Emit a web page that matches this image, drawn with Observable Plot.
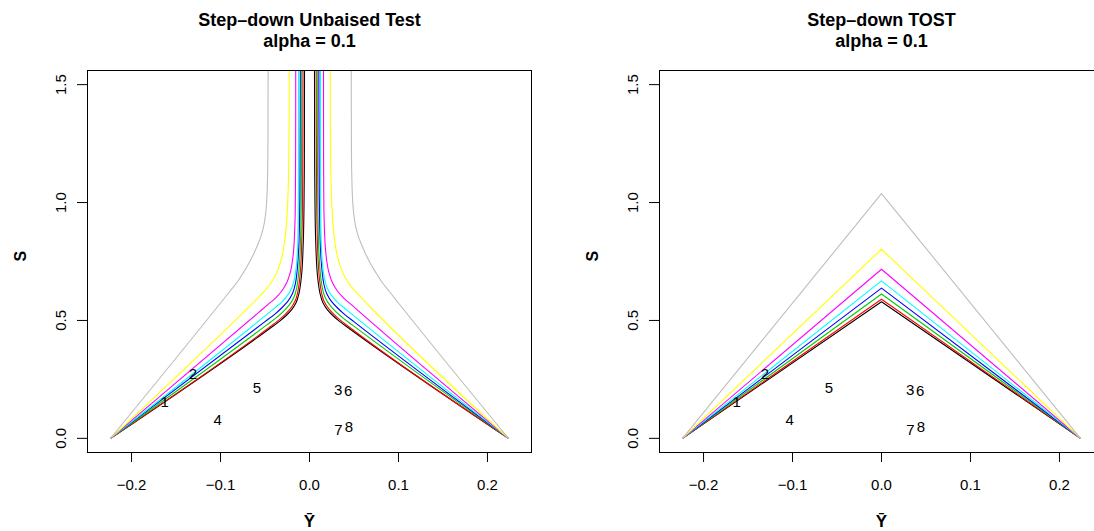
<!DOCTYPE html>
<html>
<head>
<meta charset="utf-8">
<script src="https://cdn.jsdelivr.net/npm/d3@7"></script>
<script src="https://cdn.jsdelivr.net/npm/@observablehq/plot@0.6"></script>
<style>
html, body { margin: 0; padding: 0; background: #fff; overflow: hidden; }
#wrap { width: 1094px; height: 531px; overflow: hidden; display: flex; background: #fff; }
#wrap svg { flex: none; }
</style>
</head>
<body>
<div id="wrap"></div>
<script>
// ---- series identity (R default palette 1..8) ----
const seriesNames = ["1", "2", "3", "4", "5", "6", "7", "8"];
const seriesColors = ["#000000", "#FF0000", "#00CD00", "#0000FF", "#00FFFF", "#FF00FF", "#FFFF00", "#BEBEBE"];

// ---- axis ticks ----
const xTicks = [-0.2, -0.1, 0.0, 0.1, 0.2];
const yTicks = [0.0, 0.5, 1.0, 1.5];

// ---- panel titles (two lines each) ----
const titleLeft = ["Step–down Unbaised Test", "alpha = 0.1"];
const titleRight = ["Step–down TOST", "alpha = 0.1"];

// ---- Step-down unbiased test boundaries: [Ybar, S] ----
const ub1L = [[-0.2236,0],[-0.0450,0.465],[-0.0342,0.495],[-0.0265,0.520],[-0.0202,0.545],[-0.0151,0.575],[-0.0118,0.615],[-0.0097,0.665],[-0.0084,0.715],[-0.0075,0.780],[-0.0068,0.855],[-0.0062,0.980],[-0.0058,1.150],[-0.0057,1.350],[-0.0056,1.600]];
const ub1R = [[0.2236,0],[0.0450,0.465],[0.0342,0.495],[0.0265,0.520],[0.0202,0.545],[0.0151,0.575],[0.0118,0.615],[0.0097,0.665],[0.0084,0.715],[0.0075,0.780],[0.0068,0.855],[0.0062,0.980],[0.0058,1.150],[0.0057,1.350],[0.0056,1.600]];
const ub2L = [[-0.2236,0],[-0.0460,0.468],[-0.0352,0.499],[-0.0276,0.525],[-0.0214,0.550],[-0.0164,0.580],[-0.0132,0.620],[-0.0112,0.670],[-0.0100,0.720],[-0.0091,0.785],[-0.0085,0.860],[-0.0079,0.985],[-0.0076,1.150],[-0.0074,1.350],[-0.0073,1.600]];
const ub2R = [[0.2236,0],[0.0460,0.468],[0.0353,0.499],[0.0277,0.525],[0.0215,0.550],[0.0165,0.580],[0.0134,0.620],[0.0114,0.670],[0.0102,0.720],[0.0093,0.785],[0.0087,0.860],[0.0081,0.985],[0.0078,1.150],[0.0076,1.350],[0.0075,1.600]];
const ub3L = [[-0.2236,0],[-0.0480,0.481],[-0.0368,0.513],[-0.0290,0.540],[-0.0226,0.566],[-0.0176,0.597],[-0.0144,0.638],[-0.0125,0.688],[-0.0113,0.740],[-0.0104,0.805],[-0.0098,0.880],[-0.0093,1.000],[-0.0090,1.170],[-0.0088,1.370],[-0.0087,1.600]];
const ub3R = [[0.2236,0],[0.0480,0.481],[0.0368,0.513],[0.0290,0.540],[0.0226,0.566],[0.0176,0.597],[0.0144,0.638],[0.0125,0.688],[0.0113,0.740],[0.0104,0.805],[0.0098,0.880],[0.0093,1.000],[0.0090,1.170],[0.0088,1.370],[0.0087,1.600]];
const ub4L = [[-0.2236,0],[-0.0500,0.495],[-0.0385,0.528],[-0.0305,0.556],[-0.0240,0.583],[-0.0190,0.615],[-0.0158,0.657],[-0.0140,0.707],[-0.0128,0.760],[-0.0119,0.825],[-0.0113,0.900],[-0.0108,1.020],[-0.0106,1.190],[-0.0104,1.390],[-0.0103,1.600]];
const ub4R = [[0.2236,0],[0.0502,0.494],[0.0387,0.528],[0.0307,0.556],[0.0242,0.583],[0.0192,0.615],[0.0160,0.657],[0.0142,0.707],[0.0130,0.760],[0.0121,0.825],[0.0115,0.900],[0.0110,1.020],[0.0108,1.190],[0.0106,1.390],[0.0105,1.600]];
const ub5L = [[-0.2236,0],[-0.0520,0.513],[-0.0410,0.547],[-0.0318,0.576],[-0.0252,0.604],[-0.0200,0.637],[-0.0167,0.680],[-0.0148,0.730],[-0.0137,0.785],[-0.0130,0.850],[-0.0127,0.925],[-0.0125,1.040],[-0.0124,1.200],[-0.0124,1.400],[-0.0123,1.600]];
const ub5R = [[0.2236,0],[0.0520,0.513],[0.0410,0.547],[0.0318,0.576],[0.0252,0.604],[0.0200,0.637],[0.0167,0.680],[0.0148,0.730],[0.0137,0.785],[0.0130,0.850],[0.0127,0.925],[0.0125,1.040],[0.0124,1.200],[0.0124,1.400],[0.0124,1.600]];
const ub6L = [[-0.2236,0],[-0.0580,0.531],[-0.0472,0.566],[-0.0380,0.596],[-0.0310,0.626],[-0.0255,0.661],[-0.0215,0.705],[-0.0191,0.755],[-0.0176,0.810],[-0.0167,0.875],[-0.0161,0.950],[-0.0158,1.060],[-0.0156,1.220],[-0.0155,1.400],[-0.0155,1.600]];
const ub6R = [[0.2236,0],[0.0582,0.530],[0.0474,0.566],[0.0382,0.596],[0.0312,0.626],[0.0257,0.661],[0.0217,0.705],[0.0193,0.755],[0.0178,0.810],[0.0169,0.875],[0.0163,0.950],[0.0160,1.060],[0.0158,1.220],[0.0157,1.400],[0.0157,1.600]];
const ub7L = [[-0.2236,0],[-0.0680,0.558],[-0.0565,0.601],[-0.0472,0.640],[-0.0398,0.680],[-0.0345,0.725],[-0.0307,0.775],[-0.0281,0.830],[-0.0263,0.890],[-0.0250,0.960],[-0.0240,1.050],[-0.0233,1.180],[-0.0229,1.350],[-0.0228,1.600]];
const ub7R = [[0.2236,0],[0.0685,0.556],[0.0570,0.601],[0.0477,0.640],[0.0403,0.680],[0.0350,0.725],[0.0312,0.775],[0.0286,0.830],[0.0268,0.890],[0.0255,0.960],[0.0245,1.050],[0.0238,1.180],[0.0234,1.350],[0.0233,1.600]];
const ub8L = [[-0.2236,0],[-0.1000,0.574],[-0.0890,0.626],[-0.0810,0.664],[-0.0740,0.705],[-0.0678,0.745],[-0.0624,0.785],[-0.0578,0.825],[-0.0543,0.860],[-0.0512,0.905],[-0.0491,0.960],[-0.0478,1.030],[-0.0471,1.120],[-0.0467,1.250],[-0.0466,1.400],[-0.0465,1.600]];
const ub8R = [[0.2236,0],[0.1000,0.574],[0.0893,0.625],[0.0814,0.663],[0.0744,0.704],[0.0682,0.744],[0.0628,0.784],[0.0582,0.824],[0.0547,0.859],[0.0516,0.904],[0.0495,0.959],[0.0482,1.030],[0.0475,1.120],[0.0471,1.250],[0.0470,1.400],[0.0469,1.600]];

// ---- Step-down TOST boundaries: apex S at Ybar = 0, feet at +-0.2236 ----
const tostFeet = [-0.2236, 0.2236];
const tostPeak = [0.579, 0.590, 0.612, 0.637, 0.668, 0.717, 0.802, 1.038];

// ---- numeric labels drawn inside both panels ----
const numLabels = ["1", "2", "3", "4", "5", "6", "7", "8"];
const numX = [-0.1627, -0.1309, 0.0322, -0.1031, -0.0592, 0.0435, 0.0326, 0.0442];
const numY = [0.1513, 0.2705, 0.2050, 0.0761, 0.2143, 0.1986, 0.0359, 0.0486];

// ---- build tables ----
const ubBranches = [[ub1L, ub1R], [ub2L, ub2R], [ub3L, ub3R], [ub4L, ub4R], [ub5L, ub5R], [ub6L, ub6R], [ub7L, ub7R], [ub8L, ub8R]];
const ubRows = [];
ubBranches.forEach((pair, i) => {
  pair.forEach((branch, j) => {
    branch.forEach(([x, y]) => ubRows.push({id: seriesNames[i] + (j ? "R" : "L"), color: seriesColors[i], x, y}));
  });
});

const tostRows = [];
tostPeak.forEach((p, i) => {
  tostRows.push({id: seriesNames[i], color: seriesColors[i], x: tostFeet[0], y: 0});
  tostRows.push({id: seriesNames[i], color: seriesColors[i], x: 0, y: p});
  tostRows.push({id: seriesNames[i], color: seriesColors[i], x: tostFeet[1], y: 0});
});

const labelRows = numLabels.map((t, i) => ({t, x: numX[i], y: numY[i]}));

const FONT = "'Liberation Sans', Arial, Helvetica, sans-serif";

function panel(title, rows, curve) {
  return Plot.plot({
    width: 572,
    height: 531,
    marginLeft: 87,
    marginRight: 41,
    marginTop: 70,
    marginBottom: 79,
    style: {fontFamily: FONT, fontSize: "15px", background: "#fff", color: "#000", overflow: "visible"},
    color: {type: "identity"},
    x: {domain: [-0.2495, 0.2495], ticks: xTicks, tickFormat: ".1f", tickSize: 10, tickPadding: 17, label: null},
    y: {domain: [-0.06, 1.56], ticks: yTicks, tickFormat: ".1f", tickSize: 10, tickPadding: 12, tickRotate: -90, label: null},
    marks: [
      Plot.line(rows, {x: "x", y: "y", z: "id", stroke: "color", strokeWidth: 1.1, curve, clip: true}),
      Plot.text(labelRows, {x: "x", y: "y", text: "t", fontSize: 15, fill: "#000", textAnchor: "middle", lineAnchor: "middle"}),
      Plot.frame({stroke: "#000", strokeWidth: 1}),
      Plot.text([title[0]], {text: d => d, frameAnchor: "top", dy: -45, lineAnchor: "bottom", fontWeight: "bold", fontSize: 18, fill: "#000"}),
      Plot.text([title[1]], {text: d => d, frameAnchor: "top", dy: -24, lineAnchor: "bottom", fontWeight: "bold", fontSize: 18, fill: "#000"}),
      Plot.text(["S"], {text: d => d, frameAnchor: "left", dx: -67, rotate: -90, fontWeight: "bold", fontSize: 16, fill: "#000"}),
      Plot.text(["Ȳ"], {text: d => d, frameAnchor: "bottom", dy: 69, lineAnchor: "middle", fontWeight: "bold", fontSize: 17, fill: "#000"})
    ]
  });
}

const wrap = document.getElementById("wrap");
wrap.appendChild(panel(titleLeft, ubRows, "monotone-y"));
wrap.appendChild(panel(titleRight, tostRows, "linear"));
</script>
</body>
</html>
